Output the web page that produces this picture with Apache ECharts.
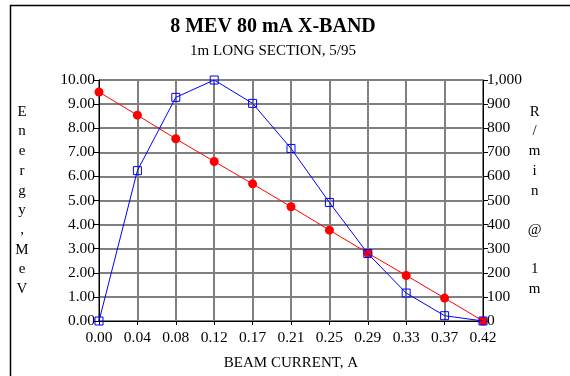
<!DOCTYPE html>
<html><head><meta charset="utf-8">
<script src="https://cdn.jsdelivr.net/npm/echarts@6/dist/echarts.min.js"></script>
<style>html,body{margin:0;padding:0;background:#fff}#c{width:570px;height:376px}</style>
</head><body><div id="c"></div>
<script>
var categories = ['0.00','0.04','0.08','0.12','0.17','0.21','0.25','0.29','0.33','0.37','0.42'];
var energyMeV = [9.50, 8.54, 7.56, 6.62, 5.69, 4.74, 3.77, 2.82, 1.89, 0.95, 0.00];
var doseRate = [0, 624, 928, 1000, 903, 716, 492, 280, 116, 22, 0];
var titleText = '8 MEV 80 mA X-BAND';
var subtitleText = '1m LONG SECTION, 5/95';
var xName = 'BEAM CURRENT, A';
var leftName = 'Energy,MeV';
var rightName = 'R/min @ 1m';

var FONT = '"Liberation Serif","DejaVu Serif",serif';
var chart = echarts.init(document.getElementById('c'), null, {renderer:'canvas'});
function stack(s){ return s.split('').join('\n'); }
chart.setOption({
  animation:false,
  backgroundColor:'#fff',
  title:[
    {text:titleText, left:268, top:12, textAlign:'center',
     textStyle:{fontFamily:FONT, fontSize:20, fontWeight:'bold', color:'#000'}},
    {text:subtitleText, left:268, top:39, textAlign:'center',
     textStyle:{fontFamily:FONT, fontSize:15, fontWeight:'normal', color:'#000'}}
  ],
  graphic:[{type:'rect', shape:{x:10.5,y:5.5,width:700,height:500}, style:{fill:'none', stroke:'#000', lineWidth:1.5}, silent:true}],
  grid:{left:99, right:87, top:80, bottom:54},
  xAxis:{type:'category', data:categories, boundaryGap:false,
    name:xName, nameLocation:'middle', nameGap:35,
    nameTextStyle:{fontFamily:FONT, fontSize:15, color:'#000'},
    axisLine:{lineStyle:{color:'#000', width:1}},
    axisTick:{show:true, alignWithLabel:true, length:4, lineStyle:{color:'#000'}},
    axisLabel:{fontFamily:FONT, fontSize:15.5, color:'#000', margin:9, interval:0},
    splitLine:{show:true, lineStyle:{color:'#808080', width:2}}
  },
  yAxis:[
    {type:'value', min:0, max:10, interval:1, position:'left',
     name:stack(leftName), nameLocation:'middle', nameRotate:0, nameGap:77,
     nameTextStyle:{fontFamily:FONT, fontSize:15, color:'#000', lineHeight:19.7, align:'center'},
     axisLine:{show:true, lineStyle:{color:'#000', width:1}},
     axisTick:{show:true, length:5, lineStyle:{color:'#000'}},
     axisLabel:{fontFamily:FONT, fontSize:15.5, color:'#000', margin:4, formatter:function(v){return v.toFixed(2);}},
     splitLine:{show:true, lineStyle:{color:'#808080', width:2}}
    },
    {type:'value', min:0, max:1000, interval:100, position:'right',
     name:stack(rightName), nameLocation:'middle', nameRotate:0, nameGap:48,
     nameTextStyle:{fontFamily:FONT, fontSize:15, color:'#000', lineHeight:19.7, align:'center'},
     axisLine:{show:true, lineStyle:{color:'#000', width:1}},
     axisTick:{show:true, length:5, lineStyle:{color:'#000'}},
     axisLabel:{fontFamily:FONT, fontSize:15.5, color:'#000', margin:4, formatter:function(v){return v.toLocaleString('en-US');}},
     splitLine:{show:false}
    }
  ],
  series:[
    {type:'line', yAxisIndex:0, data:energyMeV, symbol:'circle', symbolSize:9,
     lineStyle:{color:'#ff0000', width:1}, itemStyle:{color:'#ff0000'}, z:3},
    {type:'line', yAxisIndex:1, data:doseRate, symbol:'rect', symbolSize:8,
     lineStyle:{color:'#0000ff', width:1}, itemStyle:{color:'rgba(0,0,0,0)', borderColor:'#0000ff', borderWidth:1}, z:4}
  ]
});
</script></body></html>
